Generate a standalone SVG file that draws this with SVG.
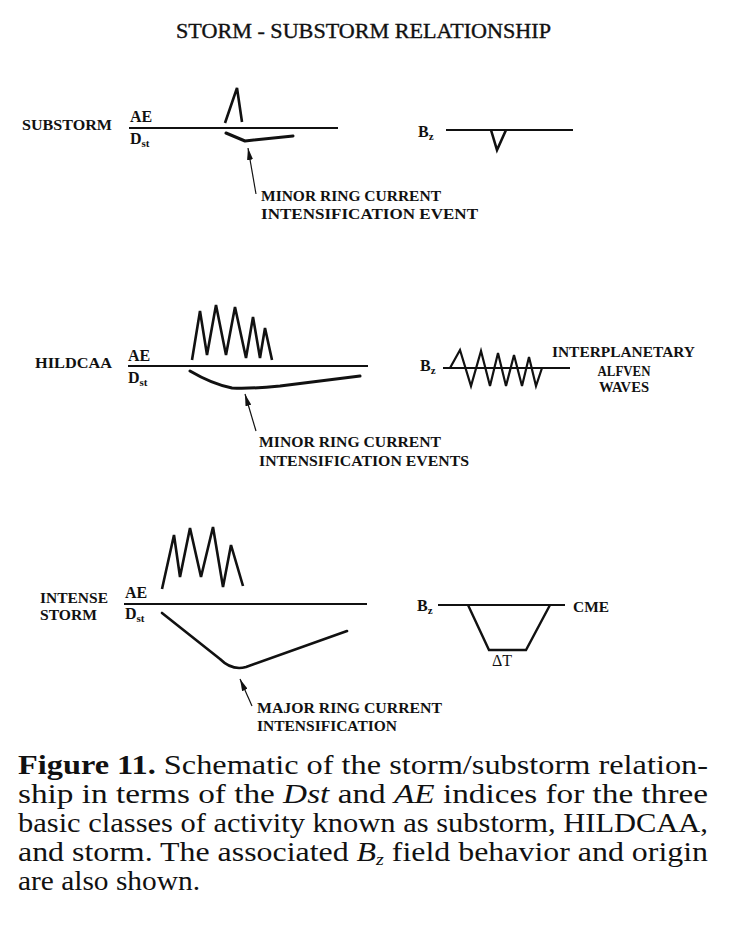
<svg xmlns="http://www.w3.org/2000/svg" width="730" height="931" viewBox="0 0 730 931">
<defs>
<style>
.bg{fill:#ffffff}
.lbl{font-family:"Liberation Serif","Times New Roman",serif;font-weight:bold;font-size:15px;fill:#111}
.ax{font-family:"Liberation Serif","Times New Roman",serif;font-weight:bold;font-size:16px;fill:#111}
.sub{font-size:11px}
.title{font-family:"Liberation Serif","Times New Roman",serif;font-size:20px;fill:#111;stroke:#111;stroke-width:0.35}
.cap{font-family:"Liberation Serif","Times New Roman",serif;font-size:27px;fill:#111}
.base{stroke:#111;stroke-width:1.8;fill:none}
.sig{stroke:#111;stroke-width:2.6;fill:none;stroke-linejoin:miter;stroke-linecap:butt}
.dst{stroke:#111;stroke-width:3;fill:none;stroke-linecap:round;stroke-linejoin:round}
.ptr{stroke:#111;stroke-width:1.2;fill:none}
</style>
<marker id="ah" viewBox="0 0 12 6" refX="12" refY="3" markerWidth="12" markerHeight="6" markerUnits="userSpaceOnUse" orient="auto">
<path d="M0,0 L12,3 L0,6 Z" fill="#111"/>
</marker>
</defs>
<rect class="bg" x="0" y="0" width="730" height="931"/>

<text class="title" x="176" y="38" textLength="375" lengthAdjust="spacingAndGlyphs">STORM - SUBSTORM  RELATIONSHIP</text>

<g id="substorm">
<text class="lbl" x="22" y="130" textLength="90" lengthAdjust="spacingAndGlyphs">SUBSTORM</text>
<text class="ax" x="130" y="122">AE</text>
<text class="ax" x="130" y="144">D<tspan class="sub" dy="3">st</tspan></text>
<line class="base" x1="129" y1="128" x2="338" y2="128"/>
<path class="sig" d="M225,123 L237,88 L242,122"/>
<path class="dst" d="M226,133 L245,141 L293,136"/>
</g>

<g id="substorm-bz">
<text class="ax" x="418" y="137">B<tspan class="sub" dy="3">z</tspan></text>
<line class="base" x1="446" y1="130" x2="573" y2="130"/>
<path class="sig" d="M491,130 L497,150 L506,130"/>
</g>

<g id="substorm-label">
<text class="lbl" x="261" y="201" textLength="180" lengthAdjust="spacingAndGlyphs">MINOR RING CURRENT</text>
<text class="lbl" x="261" y="219" textLength="217" lengthAdjust="spacingAndGlyphs">INTENSIFICATION  EVENT</text>
</g>

<g id="hildcaa">
<text class="lbl" x="35" y="368" textLength="77" lengthAdjust="spacingAndGlyphs">HILDCAA</text>
<text class="ax" x="128" y="361">AE</text>
<text class="ax" x="128" y="383">D<tspan class="sub" dy="3">st</tspan></text>
<line class="base" x1="128" y1="366" x2="368" y2="366"/>
<path class="sig" d="M192,360 L200,311 L207,355 L216,305 L226,355 L235,307 L246,358 L253,317 L260,358 L265,328 L272,360"/>
<path class="dst" d="M190,371 Q212,384 232,388 Q250,389 280,386 L360,376"/>
</g>

<g id="hildcaa-bz">
<text class="ax" x="420" y="371">B<tspan class="sub" dy="3">z</tspan></text>
<line class="base" x1="443" y1="368" x2="570" y2="368"/>
<path class="sig" style="stroke-width:2.2" d="M450,368 L460,350 L471,386 L481,351 L490,386 L498,353 L506,386 L514,355 L522,386 L529,357 L536,386 L542,368"/>
<text class="lbl" x="552" y="357" textLength="143" lengthAdjust="spacingAndGlyphs">INTERPLANETARY</text>
<text class="lbl" x="624" y="376" text-anchor="middle" textLength="53" lengthAdjust="spacingAndGlyphs">ALFVEN</text>
<text class="lbl" x="624" y="392" text-anchor="middle" textLength="50" lengthAdjust="spacingAndGlyphs">WAVES</text>
</g>

<g id="hildcaa-label">
<text class="lbl" x="259" y="447" textLength="182" lengthAdjust="spacingAndGlyphs">MINOR RING CURRENT</text>
<text class="lbl" x="259" y="466" textLength="210" lengthAdjust="spacingAndGlyphs">INTENSIFICATION EVENTS</text>
</g>

<g id="storm">
<text class="lbl" x="40" y="603" textLength="68" lengthAdjust="spacingAndGlyphs">INTENSE</text>
<text class="lbl" x="40" y="620" textLength="57" lengthAdjust="spacingAndGlyphs">STORM</text>
<text class="ax" x="125" y="598">AE</text>
<text class="ax" x="125" y="619">D<tspan class="sub" dy="3">st</tspan></text>
<line class="base" x1="124" y1="604" x2="367" y2="604"/>
<path class="sig" d="M162,589 L174,535 L180,577 L190,528 L201,577 L213,527 L223,587 L231,545 L243,586"/>
<path class="dst" style="stroke-width:2.6" d="M162,613 L220,659 Q232,671 246,667 L347,631"/>
</g>

<g id="storm-bz">
<text class="ax" x="417" y="611">B<tspan class="sub" dy="3">z</tspan></text>
<line class="base" x1="438" y1="605" x2="565" y2="605"/>
<path class="sig" style="stroke-width:2.4" d="M468,605 L489,650 L526,650 L550,605"/>
<text class="lbl" x="573" y="612" textLength="36" lengthAdjust="spacingAndGlyphs">CME</text>
<text class="ax" x="492" y="666" style="font-weight:normal">ΔT</text>
</g>

<g id="storm-label">
<text class="lbl" x="257" y="713" textLength="185" lengthAdjust="spacingAndGlyphs">MAJOR RING CURRENT</text>
<text class="lbl" x="257" y="731" textLength="140" lengthAdjust="spacingAndGlyphs">INTENSIFICATION</text>
</g>

<g id="connectors">
<line class="ptr" x1="256" y1="194" x2="248" y2="148" marker-end="url(#ah)"/>
<line class="ptr" x1="256" y1="431" x2="245" y2="394" marker-end="url(#ah)"/>
<line class="ptr" x1="252" y1="706" x2="240" y2="679" marker-end="url(#ah)"/>
</g>

<g id="caption">
<text class="cap" x="18" y="774" textLength="690" lengthAdjust="spacingAndGlyphs"><tspan font-weight="bold">Figure 11.</tspan> Schematic of the storm/substorm relation-</text>
<text class="cap" x="18" y="803" textLength="690" lengthAdjust="spacingAndGlyphs">ship in terms of the <tspan font-style="italic">Dst</tspan> and <tspan font-style="italic">AE</tspan> indices for the three</text>
<text class="cap" x="18" y="832" textLength="690" lengthAdjust="spacingAndGlyphs">basic classes of activity known as substorm, HILDCAA,</text>
<text class="cap" x="18" y="861" textLength="690" lengthAdjust="spacingAndGlyphs">and storm. The associated <tspan font-style="italic">B</tspan><tspan font-style="italic" font-size="17" dy="4">z</tspan><tspan dy="-4"> field behavior and origin</tspan></text>
<text class="cap" x="18" y="890" textLength="182" lengthAdjust="spacingAndGlyphs">are also shown.</text>
</g>
</svg>
